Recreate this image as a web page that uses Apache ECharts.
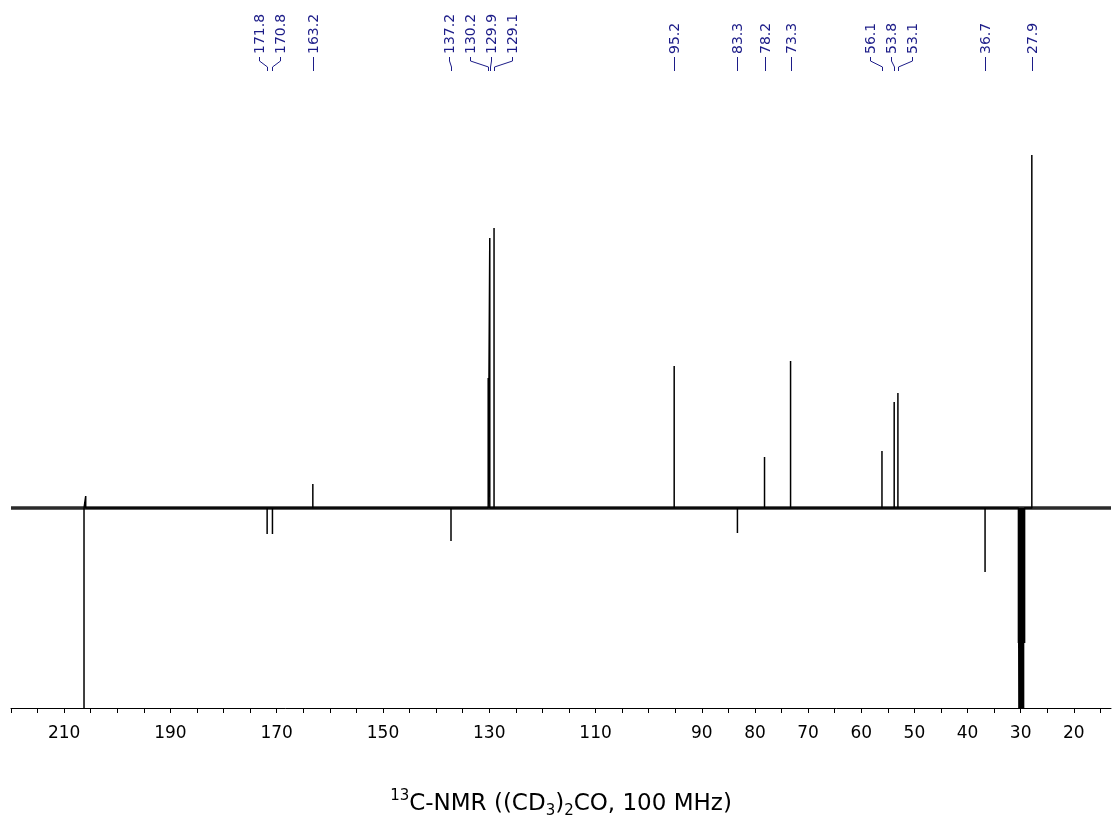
<!DOCTYPE html>
<html><head><meta charset="utf-8">
<script src="https://cdn.jsdelivr.net/npm/echarts@6/dist/echarts.min.js"></script>
<style>html,body{margin:0;padding:0;background:#fff}#c{width:1112px;height:821px}</style>
</head><body><div id="c"></div>
<script>
// Peak-picking labels (ppm)
const peakLabels = [171.8, 170.8, 163.2, 137.2, 130.2, 129.9, 129.1, 95.2, 83.3, 78.2, 73.3, 56.1, 53.8, 53.1, 36.7, 27.9];
// Signals: chemical shift (ppm) and intensity (arbitrary units, + up / - down)
const signalShifts = [206.26, 205.94, 171.8, 170.8, 163.2, 137.2, 130.2, 129.9, 129.1, 95.2, 83.3, 78.2, 73.3, 56.1, 53.8, 53.1, 36.7, 30.42, 30.23, 30.03, 29.84, 29.65, 29.45, 29.26, 27.9];
const signalIntensities = [-260, 12, -26, -26, 24, -33, 130, 270, 280, 142, -25, 51, 147, 57, 106, 115, -64, -135, -405, -810, -945, -810, -405, -135, 353];
// Axis ticks and labels
const tickValues = [220, 215, 210, 205, 200, 195, 190, 185, 180, 175, 170, 165, 160, 155, 150, 145, 140, 135, 130, 125, 120, 115, 110, 105, 100, 95, 90, 85, 80, 75, 70, 65, 60, 55, 50, 45, 40, 35, 30, 25, 20, 15];
const tickLabels = [210, 190, 170, 150, 130, 110, 90, 80, 70, 60, 50, 40, 30, 20];
const axisRange = [13, 220];

const NAVY = '#1c1c88';
const FONT = 'DejaVu Sans, Verdana, sans-serif';

const spectrum = [];
signalShifts.forEach((p, i) => {
  spectrum.push([p, 0], [p, signalIntensities[i]], [p, 0]);
});

const chart = echarts.init(document.getElementById('c'), null, {renderer: 'canvas'});
chart.setOption({
  animation: false,
  backgroundColor: '#fff',
  grid: {left: 11, right: 1, top: 108, bottom: 113, outerBoundsMode: 'none', containLabel: false},
  xAxis: {
    type: 'value', inverse: true, min: axisRange[0], max: axisRange[1],
    axisLine: {onZero: false, lineStyle: {color: '#000', width: 1}},
    axisTick: {customValues: tickValues, length: 5, lineStyle: {color: '#000', width: 1}},
    axisLabel: {customValues: tickLabels, fontSize: 17, color: '#000', fontFamily: FONT, margin: 17},
    splitLine: {show: false},
    name: '{sup|13}C-NMR ((CD{sub|3}){sub|2}CO, 100 MHz)',
    nameLocation: 'middle', nameGap: 81,
    nameTextStyle: {
      fontSize: 23, color: '#000', fontFamily: FONT, lineHeight: 30,
      rich: {
        sup: {fontSize: 15, fontFamily: FONT, color: '#000', verticalAlign: 'top', lineHeight: 30, padding: [0, 0, 11, 0]},
        sub: {fontSize: 15, fontFamily: FONT, color: '#000', verticalAlign: 'bottom', lineHeight: 30, padding: [9, 0, 0, 0]}
      }
    }
  },
  yAxis: {type: 'value', min: -200, max: 400, show: false, splitLine: {show: false}},
  series: [
    {type: 'line', data: [[axisRange[1], 0], [axisRange[0], 0]], showSymbol: false, symbol: 'none',
     lineStyle: {color: '#2a2a2a', width: 3.5}, silent: true},
    {type: 'line', data: spectrum, showSymbol: false, symbol: 'none', clip: true,
     lineStyle: {color: '#000', width: 1.5}, silent: true}
  ]
});

// Label layout: spread labels so they don't overlap
const px = peakLabels.map(v => chart.convertToPixel({xAxisIndex: 0}, v));
const GAP = 21;
let clusters = px.map((x) => ({n: 1, sum: x}));
let merged = true;
while (merged) {
  merged = false;
  for (let i = 0; i < clusters.length - 1; i++) {
    const a = clusters[i], b = clusters[i + 1];
    const aR = a.sum / a.n + (a.n - 1) / 2 * GAP;
    const bL = b.sum / b.n - (b.n - 1) / 2 * GAP;
    if (bL - aR < GAP) { a.n += b.n; a.sum += b.sum; clusters.splice(i + 1, 1); merged = true; break; }
  }
}
const lx = [];
clusters.forEach(c => { const ctr = c.sum / c.n; for (let k = 0; k < c.n; k++) lx.push(ctr + (k - (c.n - 1) / 2) * GAP); });

const elements = [];
peakLabels.forEach((v, i) => {
  const L = Math.round(lx[i]) + 0.5, P = Math.round(px[i]) + 0.5;
  elements.push({
    type: 'text', x: L + 0.5, y: 54, rotation: Math.PI / 2,
    style: {text: v.toFixed(1), font: '14px ' + FONT, fill: NAVY, align: 'left', verticalAlign: 'middle', textAlign: 'left', textVerticalAlign: 'middle'}
  });
  elements.push({
    type: 'polyline', shape: {points: [[L, 57], [L, 61], [P, 67], [P, 71]]},
    style: {stroke: NAVY, lineWidth: 1, fill: null}
  });
});
chart.setOption({graphic: {elements: elements}});
</script></body></html>
